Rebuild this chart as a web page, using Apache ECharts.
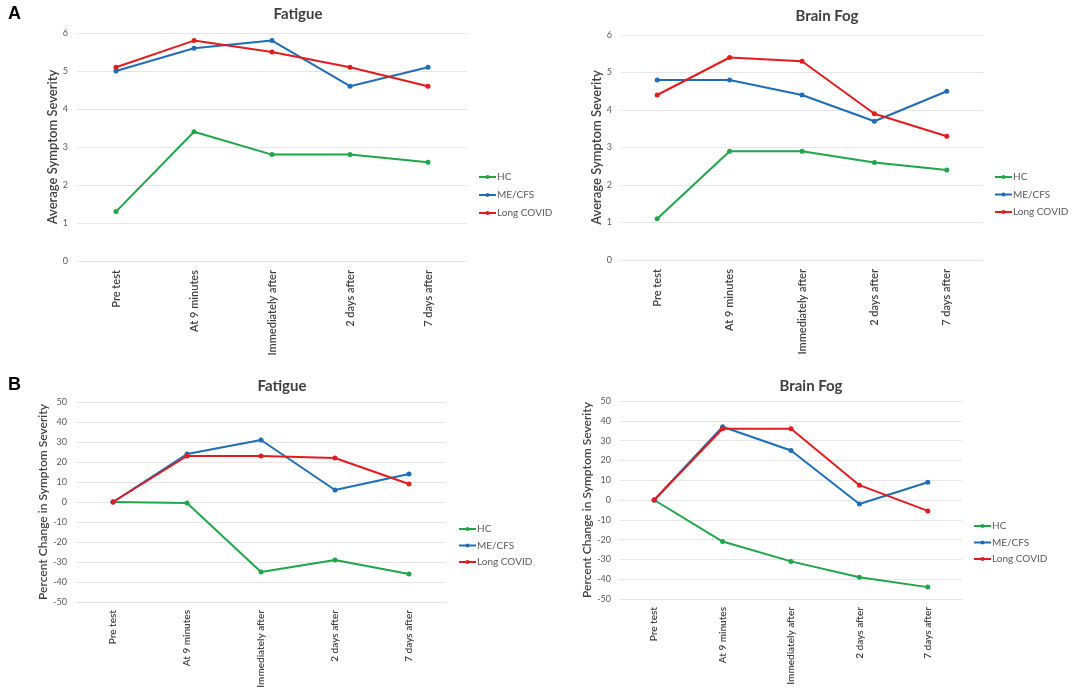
<!DOCTYPE html>
<html>
<head>
<meta charset="utf-8">
<script src="https://cdn.jsdelivr.net/npm/echarts@6/dist/echarts.min.js"></script>
<style>
html,body{margin:0;padding:0;background:#fff;}
#chart{width:1084px;height:694px;}
</style>
</head>
<body>
<div id="chart"></div>
<script>
const categories = ['Pre test', 'At 9 minutes', 'Immediately after', '2 days after', '7 days after'];
const seriesNames = ['HC', 'ME/CFS', 'Long COVID'];

// Panel A: Average symptom severity
const fatigueAvgHC = [1.3, 3.4, 2.8, 2.8, 2.6];
const fatigueAvgME = [5.0, 5.6, 5.8, 4.6, 5.1];
const fatigueAvgLC = [5.1, 5.8, 5.5, 5.1, 4.6];

const fogAvgHC = [1.1, 2.9, 2.9, 2.6, 2.4];
const fogAvgME = [4.8, 4.8, 4.4, 3.7, 4.5];
const fogAvgLC = [4.4, 5.4, 5.3, 3.9, 3.3];

// Panel B: Percent change in symptom severity
const fatiguePctHC = [0, -0.5, -35, -29, -36];
const fatiguePctME = [0, 24, 31, 6, 14];
const fatiguePctLC = [0, 23, 23, 22, 9];

const fogPctHC = [0, -21, -31, -39, -44];
const fogPctME = [0, 37, 25, -2, 9];
const fogPctLC = [0, 36, 36, 7.5, -5.5];

const avgTicks = [0, 6, 1];
const pctTicks = [-50, 50, 10];

const colors = ['#1fa64a', '#1f6db5', '#e31b1f'];
const FONT = 'Lato, "Open Sans", sans-serif';

const panels = [
  {title: 'Fatigue', data: [fatigueAvgHC, fatigueAvgME, fatigueAvgLC], ticks: avgTicks, yName: 'Average Symptom Severity',
   grid: {left: 77, top: 33, width: 390, height: 228}, titlePos: {x: 293, y: 2},
   legend: {x: 473, y: 167, gap: 8, lh: 10}, nameGap: 16, nameSize: 13, xSize: 11, xMargin: 9},
  {title: 'Brain Fog', data: [fogAvgHC, fogAvgME, fogAvgLC], ticks: avgTicks, yName: 'Average Symptom Severity',
   grid: {left: 621, top: 35, width: 362, height: 225}, titlePos: {x: 822, y: 4},
   legend: {x: 989, y: 167, gap: 7.5, lh: 10}, nameGap: 12, nameSize: 13, xSize: 11, xMargin: 9},
  {title: 'Fatigue', data: [fatiguePctHC, fatiguePctME, fatiguePctLC], ticks: pctTicks, yName: 'Percent Change in Symptom Severity',
   grid: {left: 76, top: 402, width: 370, height: 200}, titlePos: {x: 277, y: 374},
   legend: {x: 453, y: 519, gap: 6.5, lh: 9}, nameGap: 23, nameSize: 12, xSize: 10, xMargin: 8},
  {title: 'Brain Fog', data: [fogPctHC, fogPctME, fogPctLC], ticks: pctTicks, yName: 'Percent Change in Symptom Severity',
   grid: {left: 620, top: 401, width: 342, height: 198}, titlePos: {x: 806, y: 374},
   legend: {x: 968, y: 516, gap: 6.5, lh: 9}, nameGap: 22, nameSize: 12, xSize: 10, xMargin: 8}
];

const option = {
  backgroundColor: '#fff',
  animation: false,
  textStyle: {fontFamily: FONT},
  title: [],
  grid: [],
  xAxis: [],
  yAxis: [],
  legend: [],
  series: [],
  graphic: [
    {type: 'text', left: 8, top: 5, style: {text: 'A', fontSize: 18, fontWeight: 'bold', fill: '#000', fontFamily: 'Liberation Sans, Arial, sans-serif'}},
    {type: 'text', left: 8, top: 376, style: {text: 'B', fontSize: 18, fontWeight: 'bold', fill: '#000', fontFamily: 'Liberation Sans, Arial, sans-serif'}}
  ]
};

panels.forEach((p, i) => {
  option.title.push({
    text: p.title, left: p.titlePos.x, top: p.titlePos.y, textAlign: 'center',
    textStyle: {fontSize: 15, fontWeight: 'bold', color: '#404040', fontFamily: FONT}
  });
  option.grid.push(Object.assign({containLabel: false}, p.grid));
  option.xAxis.push({
    type: 'category', gridIndex: i, data: categories, boundaryGap: true,
    axisLine: {show: true, onZero: false, lineStyle: {color: '#e3e3e3', width: 1}},
    axisTick: {show: false},
    axisLabel: {rotate: 90, fontSize: p.xSize, color: '#404040', margin: p.xMargin, fontWeight: 600, fontFamily: FONT, interval: 0},
    splitLine: {show: false}
  });
  option.yAxis.push({
    type: 'value', gridIndex: i, min: p.ticks[0], max: p.ticks[1], interval: p.ticks[2],
    name: p.yName, nameLocation: 'middle', nameRotate: 90, nameGap: p.nameGap,
    nameTextStyle: {fontSize: p.nameSize, color: '#404040', fontWeight: 600, fontFamily: FONT},
    axisLine: {show: false}, axisTick: {show: false},
    axisLabel: {fontSize: 9, color: '#595959', margin: 9, fontFamily: FONT},
    splitLine: {show: true, lineStyle: {color: '#e6e6e6', width: 1}}
  });
  option.legend.push({
    orient: 'vertical', left: p.legend.x, top: p.legend.y,
    itemWidth: 17, itemHeight: 5, itemGap: p.legend.gap,
    data: seriesNames,
    lineStyle: {width: 2},
    textStyle: {fontSize: 10, lineHeight: p.legend.lh, color: '#595959', fontFamily: FONT, padding: [0, 0, 0, -4]},
    selectedMode: false
  });
  p.data.forEach((d, k) => {
    option.series.push({
      type: 'line', name: seriesNames[k], xAxisIndex: i, yAxisIndex: i, data: d,
      symbol: 'circle', symbolSize: 5, showSymbol: true,
      lineStyle: {width: 2, color: colors[k]},
      itemStyle: {color: colors[k]},
      z: 2 + k
    });
  });
});

const chart = echarts.init(document.getElementById('chart'), null, {renderer: 'canvas'});
chart.setOption(option);
</script>
</body>
</html>
